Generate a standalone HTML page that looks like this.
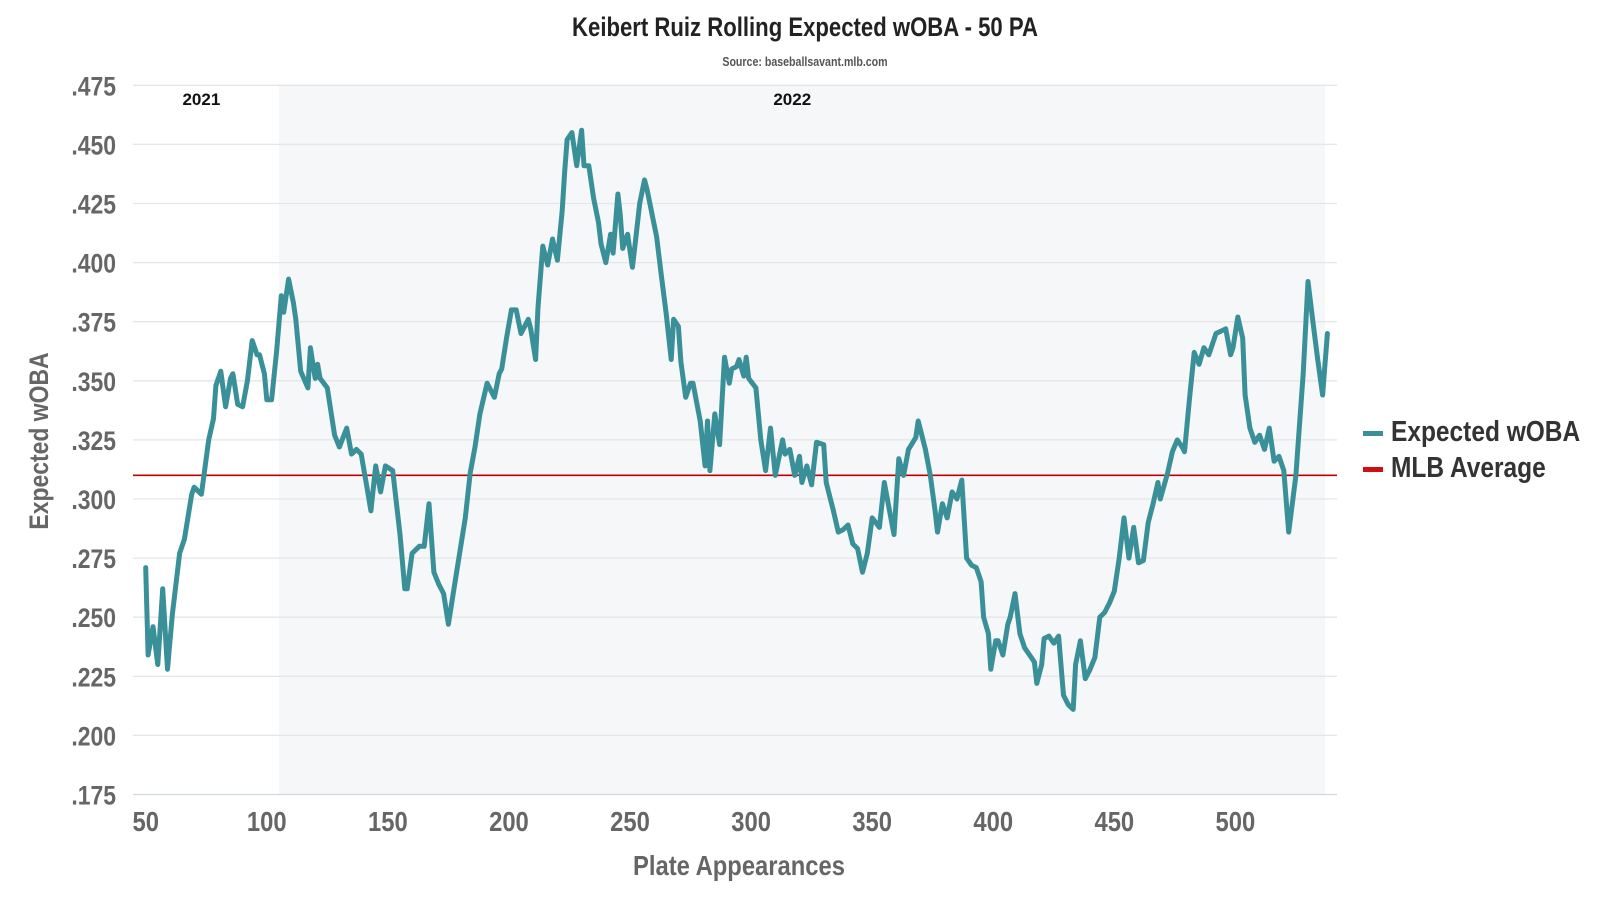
<!DOCTYPE html>
<html><head><meta charset="utf-8"><style>
html,body{margin:0;padding:0;background:#fff;}
svg{display:block;font-family:"Liberation Sans",sans-serif;}
</style></head><body>
<svg id="chart" width="1600" height="900" viewBox="0 0 1600 900">
<text x="805" y="36" text-anchor="middle" font-size="27" font-weight="bold" fill="#222" transform="translate(805,0) scale(0.82,1) translate(-805,0)">Keibert Ruiz Rolling Expected wOBA - 50 PA</text>
<text x="805" y="66" text-anchor="middle" font-size="12.5" font-weight="bold" fill="#555" transform="translate(805,0) scale(0.85,1) translate(-805,0)">Source: baseballsavant.mlb.com</text>
<g id="plot"></g>
<text transform="translate(48,441) rotate(-90) scale(0.85,1)" text-anchor="middle" font-size="27" font-weight="bold" fill="#666">Expected wOBA</text>
<text x="739" y="875" text-anchor="middle" font-size="28" font-weight="bold" fill="#666" transform="translate(739,0) scale(0.85,1) translate(-739,0)">Plate Appearances</text>
<g>
<rect x="1363" y="431" width="20" height="5" fill="#3a9098"/>
<text x="1391" y="441" font-size="28.5" font-weight="bold" fill="#333" transform="translate(1391,0) scale(0.86,1) translate(-1391,0)">Expected wOBA</text>
<rect x="1363" y="467" width="20" height="5" fill="#d01010"/>
<text x="1391" y="477" font-size="28.5" font-weight="bold" fill="#333" transform="translate(1391,0) scale(0.86,1) translate(-1391,0)">MLB Average</text>
</g>
</svg>
<script>
const paValues=[50,51,53,55,57,59,61,64,66,69,70,73,76,78,79,81,83,85,86,88,90,92,94,96,97,99,100,102,104,106,107,109,111,112,114,117,118,120,121,122,125,128,130,133,135,137,139,141,143,145,147,149,152,155,157,158,160,163,165,167,169,171,173,175,177,179,182,184,186,188,191,194,196,197,199,201,203,205,208,209,211,212,214,216,218,220,222,223,224,226,228,230,231,233,235,237,238,240,242,243,245,246,247,249,251,252,254,256,257,259,261,263,265,267,268,270,271,273,275,276,279,281,282,283,285,287,289,291,292,294,295,297,298,299,302,304,306,308,310,313,314,316,318,320,321,323,325,327,330,331,334,336,338,340,342,344,346,348,350,353,355,357,359,361,363,365,368,369,372,374,376,377,379,381,383,385,387,389,391,393,395,396,398,399,401,402,404,406,407,409,411,413,415,417,418,420,421,423,425,427,429,431,433,434,436,438,440,442,444,446,448,450,452,454,456,458,460,462,464,466,468,469,472,474,476,478,479,481,483,485,487,489,492,494,496,498,499,501,503,504,506,508,510,512,514,516,518,520,522,525,526,528,530,532,534,536,538];
const xwobaValues=[.271,.234,.246,.230,.262,.228,.251,.277,.283,.302,.305,.302,.325,.334,.348,.354,.339,.351,.353,.340,.339,.350,.367,.361,.361,.353,.342,.342,.362,.386,.379,.393,.383,.376,.354,.347,.364,.351,.357,.351,.347,.327,.322,.330,.319,.321,.319,.307,.295,.314,.303,.314,.312,.285,.262,.262,.277,.280,.280,.298,.269,.264,.260,.247,.260,.273,.292,.311,.322,.336,.349,.343,.353,.355,.368,.380,.380,.370,.376,.372,.359,.381,.407,.399,.410,.401,.422,.438,.452,.455,.441,.456,.441,.441,.427,.417,.408,.400,.412,.404,.429,.420,.406,.412,.398,.407,.425,.435,.431,.421,.411,.394,.378,.359,.376,.373,.358,.343,.349,.349,.333,.314,.333,.312,.336,.323,.360,.349,.355,.356,.359,.352,.360,.351,.347,.325,.312,.330,.310,.325,.319,.321,.310,.318,.307,.314,.306,.324,.323,.307,.295,.286,.287,.289,.281,.279,.269,.277,.292,.288,.307,.296,.285,.317,.310,.321,.326,.333,.321,.310,.295,.286,.298,.292,.303,.300,.308,.275,.272,.271,.265,.250,.243,.228,.240,.240,.234,.247,.250,.260,.243,.237,.234,.231,.222,.230,.241,.242,.239,.242,.217,.213,.211,.230,.240,.224,.228,.233,.250,.252,.256,.261,.275,.292,.275,.288,.273,.274,.290,.298,.307,.300,.311,.320,.325,.322,.320,.342,.362,.357,.364,.361,.370,.371,.372,.361,.364,.377,.368,.344,.330,.324,.327,.321,.330,.316,.318,.312,.286,.310,.325,.353,.392,.375,.359,.344,.370];
const mlbAverage=[.310];
const yTickValues=[.475,.450,.425,.400,.375,.350,.325,.300,.275,.250,.225,.200,.175];
const yTickLabels=[".475",".450",".425",".400",".375",".350",".325",".300",".275",".250",".225",".200",".175"];
const xTickValues=[50,100,150,200,250,300,350,400,450,500];
const xTickLabels=["50","100","150","200","250","300","350","400","450","500"];
const seasonStarts=[50,105];
const seasonLabels=["2021","2022"];
const seasonLabelPA=[73,317];

const NS="http://www.w3.org/2000/svg";
const L=133,R=1337,T=85.3,B=794.5;
const X=v=>145.7+(v-50)*(1235.4-145.7)/450;
const Y=v=>T+(0.475-v)*(B-T)/0.300;
const g=document.getElementById('plot');
function mk(tag,attrs){const e=document.createElementNS(NS,tag);for(const k in attrs)e.setAttribute(k,attrs[k]);g.appendChild(e);return e;}

const shade=mk('rect',{x:X(seasonStarts[1]),y:T,width:X(537)-X(seasonStarts[1]),height:B-T,fill:'#f6f7f8'});



yTickValues.forEach((v,i)=>{
  const ln=mk('line',{x1:L,x2:R,y1:Y(v),y2:Y(v),stroke:i===yTickValues.length-1?'#cfd8e3':'#e6e6e6','stroke-width':1.3});
  
  
  const t=mk('text',{x:116,y:Y(v)+10,'text-anchor':'end','font-size':27,'font-weight':'bold',fill:'#666',transform:`translate(116,0) scale(0.85,1) translate(-116,0)`});
  t.textContent=yTickLabels[i];
  
  
});
xTickValues.forEach((v,i)=>{
  const t=mk('text',{x:X(v),y:831,'text-anchor':'middle','font-size':28,'font-weight':'bold',fill:'#666',transform:`translate(${X(v)},0) scale(0.85,1) translate(${-X(v)},0)`});
  t.textContent=xTickLabels[i];
  
  
});
seasonLabels.forEach((s,i)=>{
  const t=mk('text',{x:X(seasonLabelPA[i]),y:105,'text-anchor':'middle','font-size':17,'font-weight':'bold',fill:'#111'});
  t.textContent=s;
  
  
});
const avg=mk('line',{x1:L,x2:R,y1:Y(mlbAverage[0]),y2:Y(mlbAverage[0]),stroke:'#c00000','stroke-width':1.6});


const d=paValues.map((p,i)=>(i?'L':'M')+X(p).toFixed(1)+','+Y(xwobaValues[i]).toFixed(1)).join(' ');
const path=mk('path',{d:d,fill:'none',stroke:'#3a9098','stroke-width':5,'stroke-linejoin':'round','stroke-linecap':'round'});


</script>
</body></html>
